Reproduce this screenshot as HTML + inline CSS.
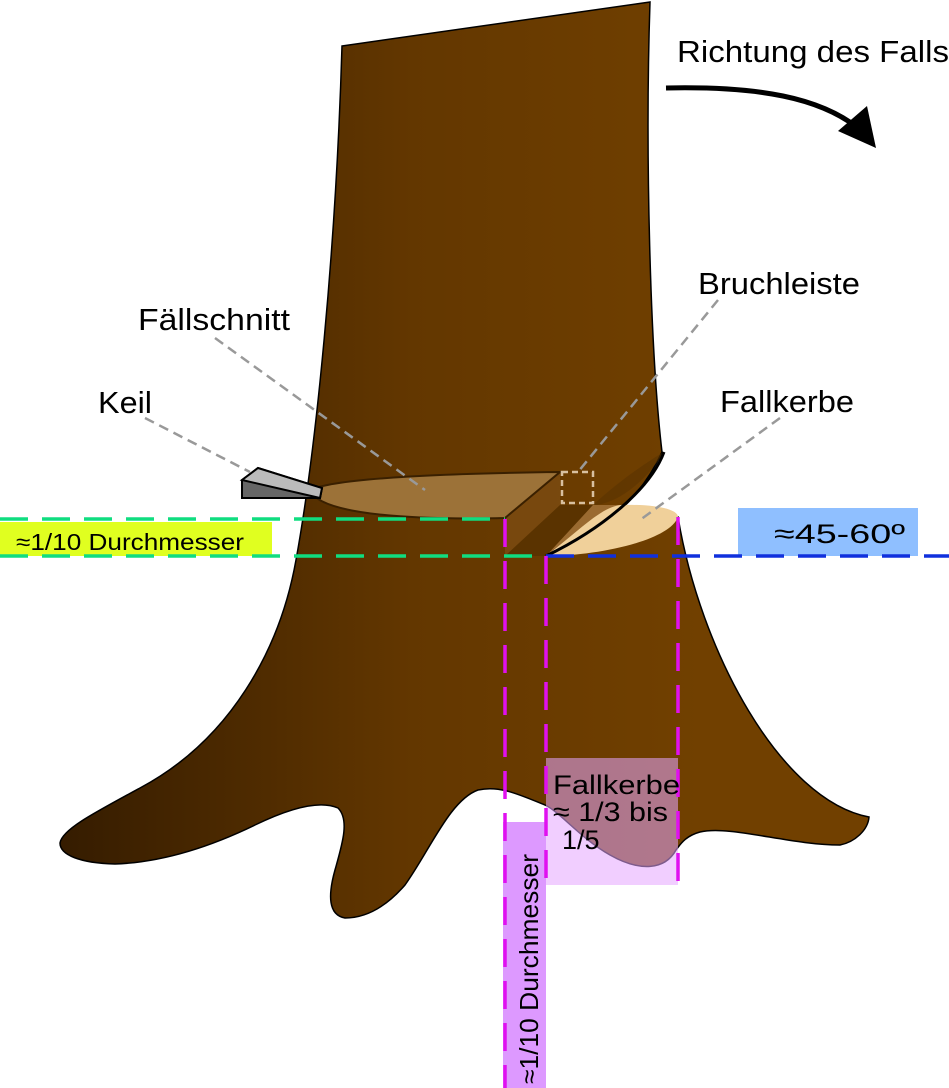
<!DOCTYPE html>
<html><head><meta charset="utf-8"><style>
html,body{margin:0;padding:0;background:#fff}
svg{display:block}
text{font-family:"Liberation Sans",sans-serif}
</style></head><body>
<svg width="949" height="1088" viewBox="0 0 949 1088" xmlns="http://www.w3.org/2000/svg">
<defs>
<linearGradient id="g" x1="60" y1="0" x2="700" y2="0" gradientUnits="userSpaceOnUse">
<stop offset="0" stop-color="#351c00"/><stop offset="0.55" stop-color="#633700"/><stop offset="1" stop-color="#714000"/>
</linearGradient>
</defs>
<path d="M342,46 L650,2 C645,150 650,350 662,452 C640,500 600,535 546,556 L600,540 L678,517 C700,650 780,800 869,817 C868,830 855,842 840,845 C790,845 730,825 700,832 C685,836 680,845 676,850 C665,870 640,872 610,855 C580,838 560,812 545,805 C520,795 500,785 478,790 C450,800 430,850 405,885 C385,908 365,918 345,918 C328,915 328,895 335,870 C342,845 350,820 338,808 C320,800 290,808 255,825 C220,842 170,862 115,864 C80,863 60,855 60,843 C62,830 90,815 140,788 C230,740 280,650 296,560 C316,450 336,250 342,46 Z" fill="url(#g)" stroke="#000" stroke-width="1.5"/>
<path d="M505,518 L560,472 L560,505 L546,556 L505,556 Z" fill="#7a4a10" opacity="0.9"/>
<path d="M505,556 L560,505 L593,505 L546,556 Z" fill="#5a3300"/>
<path d="M546,556 L593,505 L620,505 C600,520 575,540 546,556 Z" fill="#9a6a30"/>
<path d="M310,490 C340,476 480,473 560,472 L505,518 C420,520 320,516 310,490 Z" fill="#9c7238" stroke="#3a2000" stroke-width="2"/>
<path d="M593,505 C620,480 650,460 664,452 C640,490 610,505 593,505 Z" fill="#5a3300" opacity="0.6"/>
<path d="M546,556 C580,530 600,508 620,505 C650,504 678,508 678,517 C670,540 600,556 546,556 Z" fill="#f0d09a"/>
<path d="M546,556 C600,530 650,490 664,452" fill="none" stroke="#000" stroke-width="3"/>
<path d="M242,480 L258,468 L322,488 L320,498 L242,498 Z" fill="#666" stroke="#000" stroke-width="2"/>
<path d="M242,480 L258,468 L322,488 L320,498 Z" fill="#bbb" stroke="#000" stroke-width="2"/>
<g stroke="#999" stroke-width="2.5" stroke-dasharray="10,6" fill="none">
<line x1="215" y1="338" x2="425" y2="490"/>
<line x1="145" y1="418" x2="250" y2="472"/>
<line x1="718" y1="300" x2="578" y2="472"/>
<line x1="780" y1="418" x2="640" y2="520"/>
<rect x="562" y="472" width="31" height="31" stroke="#d8c0a0" stroke-dasharray="6,4"/>
</g>
<rect x="0" y="522" width="272" height="34" fill="#e0ff20"/>
<rect x="738" y="508" width="180" height="48" fill="#8fbfff"/>
<rect x="546" y="758" width="132" height="127" fill="#e6a6ff" opacity="0.55"/>
<rect x="503" y="822" width="43" height="266" fill="#dd99ff"/>
<g stroke-width="3.5" fill="none" stroke-dasharray="28,14">
<line x1="0" y1="519" x2="505" y2="519" stroke="#10dd80"/>
<line x1="0" y1="556" x2="546" y2="556" stroke="#10dd80"/>
<line x1="546" y1="556" x2="949" y2="556" stroke="#1030dd"/>
<line x1="505" y1="519" x2="505" y2="1088" stroke="#e010f0"/>
<line x1="546" y1="556" x2="546" y2="885" stroke="#e010f0"/>
<line x1="678" y1="517" x2="678" y2="885" stroke="#e010f0"/>
</g>
<path d="M666,88 C760,86 820,98 858,128" fill="none" stroke="#000" stroke-width="5"/>
<path d="M867,106 L876,148 L838,131 Z" fill="#000"/>
<g font-size="31" fill="#000">
<text x="677" y="62" textLength="272" lengthAdjust="spacingAndGlyphs">Richtung des Falls</text>
<text x="698" y="294" textLength="162" lengthAdjust="spacingAndGlyphs">Bruchleiste</text>
<text x="138" y="330" textLength="152" lengthAdjust="spacingAndGlyphs">Fällschnitt</text>
<text x="98" y="413" textLength="54" lengthAdjust="spacingAndGlyphs">Keil</text>
<text x="720" y="412" textLength="134" lengthAdjust="spacingAndGlyphs">Fallkerbe</text>
<text x="553" y="794" font-size="27" textLength="127" lengthAdjust="spacingAndGlyphs">Fallkerbe</text>
<text x="553" y="821" font-size="27" textLength="115" lengthAdjust="spacingAndGlyphs">≈ 1/3 bis</text>
<text x="562" y="849" font-size="27">1/5</text>
</g>
<text x="16" y="550" font-size="23" textLength="228" lengthAdjust="spacingAndGlyphs">≈1/10 Durchmesser</text>
<text x="774" y="543" font-size="27" textLength="131" lengthAdjust="spacingAndGlyphs">≈45-60º</text>
<text transform="translate(538,1084) rotate(-90)" font-size="26" textLength="230" lengthAdjust="spacingAndGlyphs">≈1/10 Durchmesser</text>
</svg>
</body></html>
